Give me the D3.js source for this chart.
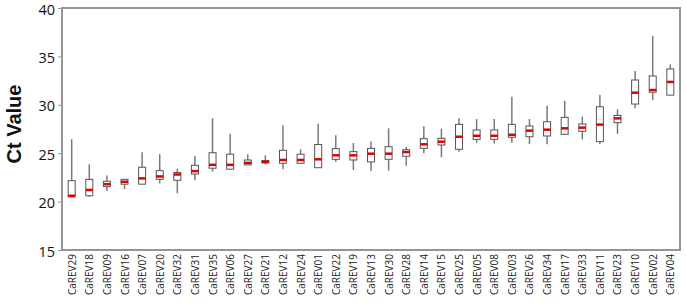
<!DOCTYPE html>
<html>
<head>
<meta charset="utf-8">
<script src="https://cdn.jsdelivr.net/npm/d3@7"></script>
<style>
  body { margin: 0; background: #fff; }
</style>
</head>
<body>
<svg id="chart" width="686" height="303"></svg>
<script>
const categories = ['CaREV29', 'CaREV18', 'CaREV09', 'CaREV16', 'CaREV07', 'CaREV20', 'CaREV32', 'CaREV31',
  'CaREV35', 'CaREV06', 'CaREV27', 'CaREV21', 'CaREV12', 'CaREV24', 'CaREV01', 'CaREV22', 'CaREV19',
  'CaREV13', 'CaREV30', 'CaREV28', 'CaREV14', 'CaREV15', 'CaREV25', 'CaREV05', 'CaREV08', 'CaREV03',
  'CaREV26', 'CaREV34', 'CaREV17', 'CaREV33', 'CaREV11', 'CaREV23', 'CaREV10', 'CaREV02', 'CaREV04'];

const whiskerLow = [20.5, 20.5, 21.1, 21.3, 21.8, 21.9, 20.85, 22.2, 23.1, 23.3, 23.8, 23.85, 23.33, 23.96,
  23.5, 24.1, 23.26, 23.16, 23.2, 23.7, 25.0, 24.58, 25.16, 26.08, 26.0, 26.08, 25.95, 25.92, 26.95,
  26.43, 25.95, 26.98, 29.64, 30.5, 31.0];
const q1 = [20.5, 20.6, 21.55, 21.8, 21.8, 22.3, 22.2, 22.85, 23.45, 23.35, 23.8, 24.0, 23.96, 23.96,
  23.5, 24.37, 24.3, 24.1, 24.37, 24.68, 25.5, 25.85, 25.4, 26.43, 26.43, 26.64, 26.7, 26.78, 26.95,
  27.26, 26.19, 28.15, 30.08, 31.3, 31.0];
const median = [20.6, 21.2, 21.8, 22.05, 22.4, 22.6, 22.8, 23.15, 23.8, 23.8, 24.0, 24.1, 24.3, 24.3,
  24.37, 24.78, 24.78, 24.95, 24.95, 25.12, 25.92, 26.19, 26.7, 26.8, 26.8, 26.9, 27.33, 27.43, 27.57,
  27.64, 27.95, 28.6, 31.25, 31.53, 32.36];
const q3 = [22.16, 22.3, 22.1, 22.3, 23.55, 23.2, 23.0, 23.75, 25.05, 24.9, 24.3, 24.25, 25.3, 24.9,
  25.9, 25.47, 25.16, 25.5, 25.67, 25.36, 26.5, 26.54, 27.98, 27.4, 27.4, 27.98, 27.81, 28.25, 28.7,
  28.02, 29.8, 28.9, 32.56, 32.98, 33.7];
const whiskerHigh = [26.45, 23.85, 22.7, 22.3, 25.1, 24.9, 23.4, 24.7, 28.6, 27.0, 24.9, 24.8, 27.9, 25.4,
  28.05, 26.85, 26.05, 26.2, 27.57, 25.64, 27.78, 27.53, 28.6, 28.53, 28.53, 30.84, 28.53, 29.9, 30.42,
  28.77, 31.0, 29.53, 33.5, 37.1, 34.18];
const yTicks = [15, 20, 25, 30, 35, 40];

const data = categories.map((c, i) => ({
  name: c, lo: whiskerLow[i], q1: q1[i], med: median[i], q3: q3[i], hi: whiskerHigh[i]
}));

const svg = d3.select('#chart'),
  margin = { top: 8, right: 6, bottom: 53, left: 62 },
  width = 686 - margin.left - margin.right,
  height = 303 - margin.top - margin.bottom;

const g = svg.append('g').attr('transform', `translate(${margin.left},${margin.top})`);

const x = d3.scalePoint().domain(categories).range([0, width]).padding(0.55);
const y = d3.scaleLinear().domain([15, 40]).range([height, 0]);

// frame round the plot
g.append('rect')
  .attr('width', width)
  .attr('height', height)
  .attr('fill', 'none')
  .attr('stroke', '#959595')
  .attr('stroke-width', 2);

// y axis
const yAxis = g.append('g').call(d3.axisLeft(y).tickValues(yTicks).tickSize(4).tickPadding(3));
yAxis.select('.domain').remove();
yAxis.selectAll('line').attr('stroke', '#959595');
yAxis.selectAll('text')
  .attr('fill', '#111')
  .attr('dy', '0.42em')
  .style('font-family', '"Open Sans", sans-serif')
  .style('font-size', '14.5px');

// x axis labels
const xAxis = g.append('g')
  .attr('transform', `translate(0,${height})`)
  .call(d3.axisBottom(x).tickSize(0).tickPadding(4));
xAxis.select('.domain').remove();
xAxis.selectAll('text')
  .attr('transform', 'rotate(-90)')
  .attr('text-anchor', 'end')
  .attr('x', -4)
  .attr('y', 0)
  .attr('dy', '0.35em')
  .attr('fill', '#222')
  .style('font-family', '"Open Sans", sans-serif')
  .style('font-size', '10px');

// y label
svg.append('text')
  .attr('transform', 'translate(21,124) rotate(-90)')
  .attr('text-anchor', 'middle')
  .style('font-family', '"Liberation Sans", Arial, sans-serif')
  .style('font-weight', 'bold')
  .style('font-size', '20px')
  .attr('fill', '#111')
  .text('Ct  Value');

const bw = 7;
const boxes = g.selectAll('.box').data(data).enter().append('g').attr('class', 'box');

// whiskers
boxes.append('line')
  .attr('x1', d => x(d.name)).attr('x2', d => x(d.name))
  .attr('y1', d => y(d.hi)).attr('y2', d => y(d.lo))
  .attr('stroke', '#7a7a7a')
  .attr('stroke-width', 1.5);

boxes.append('rect')
  .attr('x', d => x(d.name) - bw / 2)
  .attr('width', bw)
  .attr('y', d => y(d.q3))
  .attr('height', d => Math.max(1, y(d.q1) - y(d.q3)))
  .attr('fill', '#fff')
  .attr('stroke', '#555')
  .attr('stroke-width', 1);

// medians
boxes.append('line')
  .attr('x1', d => x(d.name) - bw / 2).attr('x2', d => x(d.name) + bw / 2)
  .attr('y1', d => y(d.med)).attr('y2', d => y(d.med))
  .attr('stroke', '#e00000')
  .attr('stroke-width', 2.5);
</script>
</body>
</html>
